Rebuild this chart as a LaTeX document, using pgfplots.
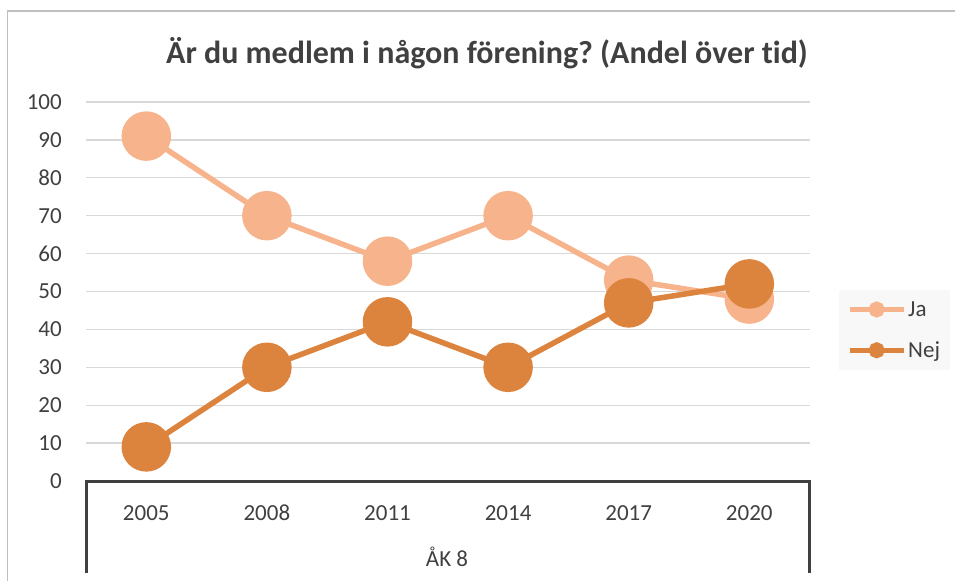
\documentclass[border=0pt]{standalone}
\usepackage{pgfplots}
\pgfplotsset{compat=1.18}
\usepackage{fontspec}
\setmainfont{Carlito}[Ligatures={NoCommon}]
\frenchspacing
\definecolor{txt}{HTML}{404040}
\definecolor{ja}{HTML}{F7B48C}
\definecolor{nej}{HTML}{DC833D}
\definecolor{gridc}{HTML}{D9D9D9}
\definecolor{framec}{HTML}{BFBFBF}
\definecolor{legbg}{HTML}{F8F8F8}
\begin{document}
\begin{tikzpicture}[x=1pt,y=1pt]
\path[use as bounding box] (0,0) rectangle (955,581);
\draw[framec, line width=1.5pt] (7.5,0) -- (7.5,570) -- (955,570);
\node[font=\bfseries\fontsize{32}{38}\selectfont, text=txt] at (487,528) {Är du medlem i någon förening? (Andel över tid)};
\begin{axis}[
  at={(86pt,100pt)}, anchor=south west,
  scale only axis, width=723.6pt, height=379pt,
  xmin=-0.5, xmax=5.5, ymin=0, ymax=100,
  xtick={0,1,2,3,4,5},
  xticklabels={2005,2008,2011,2014,2017,2020},
  ytick={0,10,...,100},
  major tick length=0pt,
  axis line style={draw=none},
  ymajorgrids, xmajorgrids=false, grid style={draw=gridc, line width=1.3pt},
  /pgf/number format/assume math mode=true,
  tick label style={font=\fontsize{23}{27}\selectfont, text=txt},
  yticklabel style={anchor=east, inner sep=0pt, xshift=-24pt},
  xticklabel style={anchor=north, inner sep=0pt, yshift=-24pt},
  clip=false,
  legend style={at={(1.0406,0.398)}, anchor=west, fill=legbg, draw=none,
    font=\fontsize{23}{27}\selectfont, text=txt, row sep=20pt,
    inner xsep=8pt, inner ysep=9pt, cells={anchor=west},
    nodes={inner sep=2pt}},
  legend image code/.code={\draw[mark repeat=2,mark phase=2,mark size=5.5pt, line width=5pt, mark options={draw=none}] plot coordinates {(0pt,0pt)(27pt,0pt)(54pt,0pt)};},
]
\addplot[ja, line width=5.5pt, mark=*, mark size=22pt, mark options={draw=none, fill=ja}]
  coordinates {(0,91)(1,70)(2,58)(3,70)(4,53)(5,48)};
\addlegendentry{Ja}
\addplot[nej, line width=5.5pt, mark=*, mark size=22pt, mark options={draw=none, fill=nej}]
  coordinates {(0,9)(1,30)(2,42)(3,30)(4,47)(5,52)};
\addlegendentry{Nej}
\end{axis}
\draw[txt, line width=3pt] (86,8) -- (86,100) -- (809.6,100) -- (809.6,8);
\node[font=\fontsize{23}{27}\selectfont, text=txt] at (447,24) {ÅK 8};
\end{tikzpicture}
\end{document}
